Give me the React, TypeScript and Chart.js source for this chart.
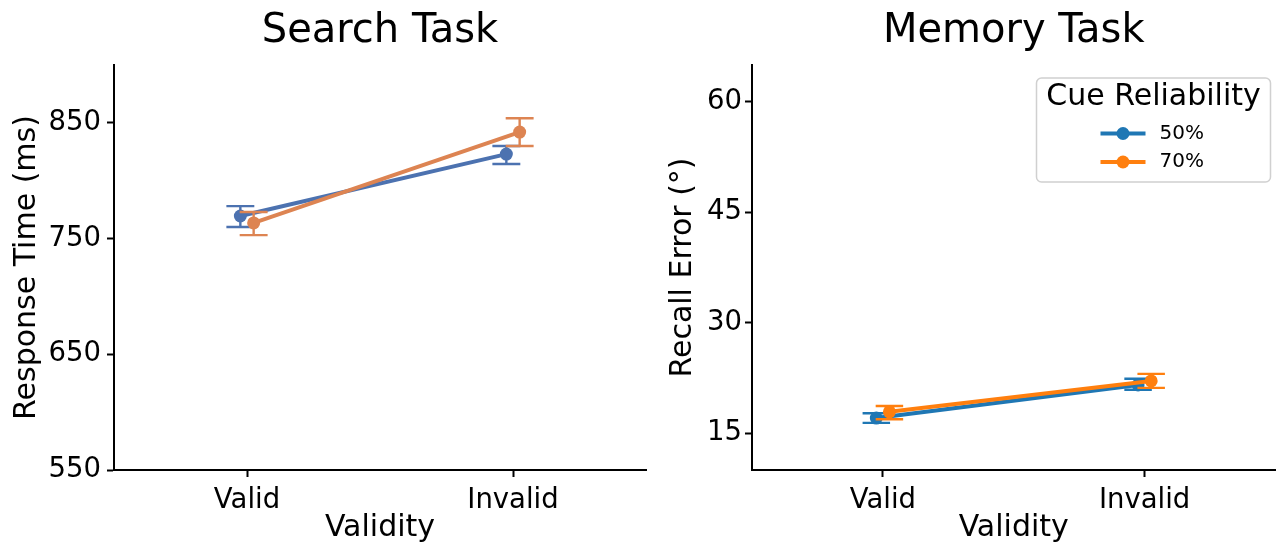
import React, { useEffect, useRef } from "react";
import { Chart, registerables } from "chart.js";

Chart.register(...registerables);

// ---------------- data ----------------
const categories = ["Valid", "Invalid"];
const seriesLabels = ["50%", "70%"];
const legendTitle = "Cue Reliability";

// Search Task — response time (ms)
const searchMean50 = [769.5, 823];
const searchLow50 = [760, 814.5];
const searchHigh50 = [778, 830];
const searchMean70 = [763.5, 842];
const searchLow70 = [753, 830];
const searchHigh70 = [773, 854];
const searchTicks = [550, 650, 750, 850];

// Memory Task — recall error (deg)
const memoryMean50 = [17.05, 21.55];
const memoryLow50 = [16.4, 20.9];
const memoryHigh50 = [17.7, 22.4];
const memoryMean70 = [17.9, 22.1];
const memoryLow70 = [16.9, 21.15];
const memoryHigh70 = [18.7, 23.05];
const memoryTicks = [15, 30, 45, 60];

// ---------------- styles ----------------
const FONT = "'DejaVu Sans', 'Liberation Sans', sans-serif";
const DODGE = 0.05;
const TICK_SIZE = 27.5;
const LABEL_SIZE = 30;
const TITLE_SIZE = 40;

const errorBarPlugin = {
  id: "errorBars",
  beforeDatasetDraw(chart: any, args: any, opts: any) {
    const ds: any = chart.data.datasets[args.index];
    if (!ds.errLow) return;
    const xs = chart.scales.x;
    const ys = chart.scales.y;
    const ctx = chart.ctx;
    ctx.save();
    ctx.strokeStyle = ds.borderColor;
    ctx.lineWidth = opts.lineWidth;
    ctx.lineCap = "butt";
    ds.data.forEach((pt: any, i: number) => {
      const x = xs.getPixelForValue(pt.x);
      const half = xs.getPixelForValue(pt.x + opts.capsize / 2) - x;
      const yl = ys.getPixelForValue(ds.errLow[i]);
      const yh = ys.getPixelForValue(ds.errHigh[i]);
      ctx.beginPath();
      ctx.moveTo(x, yl);
      ctx.lineTo(x, yh);
      ctx.moveTo(x - half, yl);
      ctx.lineTo(x + half, yl);
      ctx.moveTo(x - half, yh);
      ctx.lineTo(x + half, yh);
      ctx.stroke();
    });
    ctx.restore();
  },
};

const legendPlugin = {
  id: "cueLegend",
  afterDraw(chart: any, _args: any, opts: any) {
    const ctx = chart.ctx;
    const area = chart.chartArea;
    const w = 234;
    const h = 104;
    const left = area.right - 5 - w;
    const top = area.top + 13;
    ctx.save();
    ctx.beginPath();
    if (ctx.roundRect) ctx.roundRect(left, top, w, h, 5);
    else ctx.rect(left, top, w, h);
    ctx.fillStyle = "rgba(255,255,255,0.8)";
    ctx.fill();
    ctx.strokeStyle = "#d0d0d0";
    ctx.lineWidth = 1.5;
    ctx.stroke();

    ctx.fillStyle = "#000";
    ctx.textBaseline = "middle";
    ctx.textAlign = "center";
    ctx.font = `${LABEL_SIZE}px ${FONT}`;
    ctx.fillText(opts.title, left + w / 2, top + 19);

    const rows = [top + 55.5, top + 84];
    chart.data.datasets.forEach((ds: any, i: number) => {
      const y = rows[i];
      ctx.strokeStyle = ds.borderColor;
      ctx.lineWidth = 4;
      ctx.beginPath();
      ctx.moveTo(left + 64, y);
      ctx.lineTo(left + 109, y);
      ctx.stroke();
      ctx.fillStyle = ds.borderColor;
      ctx.beginPath();
      ctx.arc(left + 86.5, y, 6.5, 0, Math.PI * 2);
      ctx.fill();
      ctx.fillStyle = "#000";
      ctx.textAlign = "left";
      ctx.font = `20px ${FONT}`;
      ctx.fillText(ds.label, left + 123, y);
    });
    ctx.restore();
  },
};

type Series = { label: string; color: string; mean: number[]; low: number[]; high: number[] };

function makeConfig(p: {
  title: string;
  yLabel: string;
  yMin: number;
  yMax: number;
  yTicks: number[];
  series: Series[];
  yAxisWidth: number;
  padRight: number;
  yTitlePad: number;
  yTickPad: number;
  legend: boolean;
}) {
  const datasets = p.series.map((s, si) => ({
    label: s.label,
    data: categories.map((_, i) => ({ x: i + (si - (p.series.length - 1) / 2) * DODGE, y: s.mean[i] })),
    errLow: s.low,
    errHigh: s.high,
    borderColor: s.color,
    backgroundColor: s.color,
    pointBackgroundColor: s.color,
    pointBorderWidth: 0,
    pointRadius: 6.5,
    borderWidth: 4,
    showLine: true,
    order: p.series.length - si,
  }));
  return {
    type: "scatter",
    data: { datasets },
    plugins: p.legend ? [errorBarPlugin, legendPlugin] : [errorBarPlugin],
    options: {
      animation: false,
      responsive: false,
      events: [],
      layout: { padding: { left: 0, right: p.padRight, top: 0, bottom: 0 } },
      plugins: {
        legend: { display: false },
        tooltip: { enabled: false },
        title: {
          display: true,
          text: p.title,
          color: "#000",
          fullSize: false,
          font: { family: FONT, size: TITLE_SIZE, weight: "normal", lineHeight: 1.2 },
          padding: { top: 8, bottom: 9 },
        },
        errorBars: { capsize: 0.105, lineWidth: 2.4 },
        cueLegend: { title: legendTitle },
      },
      scales: {
        x: {
          type: "linear",
          min: -0.5,
          max: 1.5,
          afterBuildTicks: (scale: any) => {
            scale.ticks = categories.map((_, i) => ({ value: i }));
          },
          afterFit: (scale: any) => {
            scale.height = 76;
          },
          ticks: {
            callback: (v: any) => categories[Math.round(Number(v))],
            color: "#000",
            font: { family: FONT, size: TICK_SIZE },
            padding: 7,
            autoSkip: false,
            maxRotation: 0,
          },
          grid: { drawOnChartArea: false, drawTicks: true, tickLength: 7, tickWidth: 2, tickColor: "#000" },
          border: { display: true, color: "#000", width: 2 },
          title: {
            display: true,
            text: "Validity",
            color: "#000",
            font: { family: FONT, size: LABEL_SIZE, lineHeight: 1.2 },
            padding: { top: 0, bottom: 0 },
          },
        },
        y: {
          type: "linear",
          min: p.yMin,
          max: p.yMax,
          afterBuildTicks: (scale: any) => {
            scale.ticks = p.yTicks.map((v) => ({ value: v }));
          },
          afterFit: (scale: any) => {
            scale.width = p.yAxisWidth;
          },
          ticks: {
            color: "#000",
            font: { family: FONT, size: TICK_SIZE },
            padding: p.yTickPad,
          },
          grid: { drawOnChartArea: false, drawTicks: true, tickLength: 7, tickWidth: 2, tickColor: "#000" },
          border: { display: true, color: "#000", width: 2 },
          title: {
            display: true,
            text: p.yLabel,
            color: "#000",
            font: { family: FONT, size: LABEL_SIZE, lineHeight: 1.2 },
            padding: { top: p.yTitlePad, bottom: 0 },
          },
        },
      },
    },
  } as any;
}

function ChartCanvas({ config, left, width }: { config: any; left: number; width: number }) {
  const ref = useRef<HTMLCanvasElement | null>(null);
  useEffect(() => {
    if (!ref.current) return;
    const chart = new Chart(ref.current, config);
    return () => chart.destroy();
  }, [config]);
  return (
    <canvas
      ref={ref}
      width={width}
      height={546}
      style={{ position: "absolute", left, top: 0, width, height: 546, display: "block" }}
    />
  );
}

const searchConfig = makeConfig({
  title: "Search Task",
  yLabel: "Response Time (ms)",
  yMin: 550,
  yMax: 900,
  yTicks: searchTicks,
  series: [
    { label: seriesLabels[0], color: "#4c72b0", mean: searchMean50, low: searchLow50, high: searchHigh50 },
    { label: seriesLabels[1], color: "#dd8452", mean: searchMean70, low: searchLow70, high: searchHigh70 },
  ],
  yAxisWidth: 114,
  padRight: 14,
  yTitlePad: 8.8,
  yTickPad: 6,
  legend: false,
});

const memoryConfig = makeConfig({
  title: "Memory Task",
  yLabel: "Recall Error (°)",
  yMin: 10,
  yMax: 65,
  yTicks: memoryTicks,
  series: [
    { label: seriesLabels[0], color: "#1f77b4", mean: memoryMean50, low: memoryLow50, high: memoryHigh50 },
    { label: seriesLabels[1], color: "#ff7f0e", mean: memoryMean70, low: memoryLow70, high: memoryHigh70 },
  ],
  yAxisWidth: 92,
  padRight: 1,
  yTitlePad: 5.5,
  yTickPad: 3,
  legend: true,
});

export default function App() {
  return (
    <div style={{ position: "fixed", left: 0, top: 0, width: 1282, height: 546, background: "#fff", overflow: "hidden" }}>
      <ChartCanvas config={searchConfig} left={0} width={660} />
      <ChartCanvas config={memoryConfig} left={660} width={622} />
    </div>
  );
}
